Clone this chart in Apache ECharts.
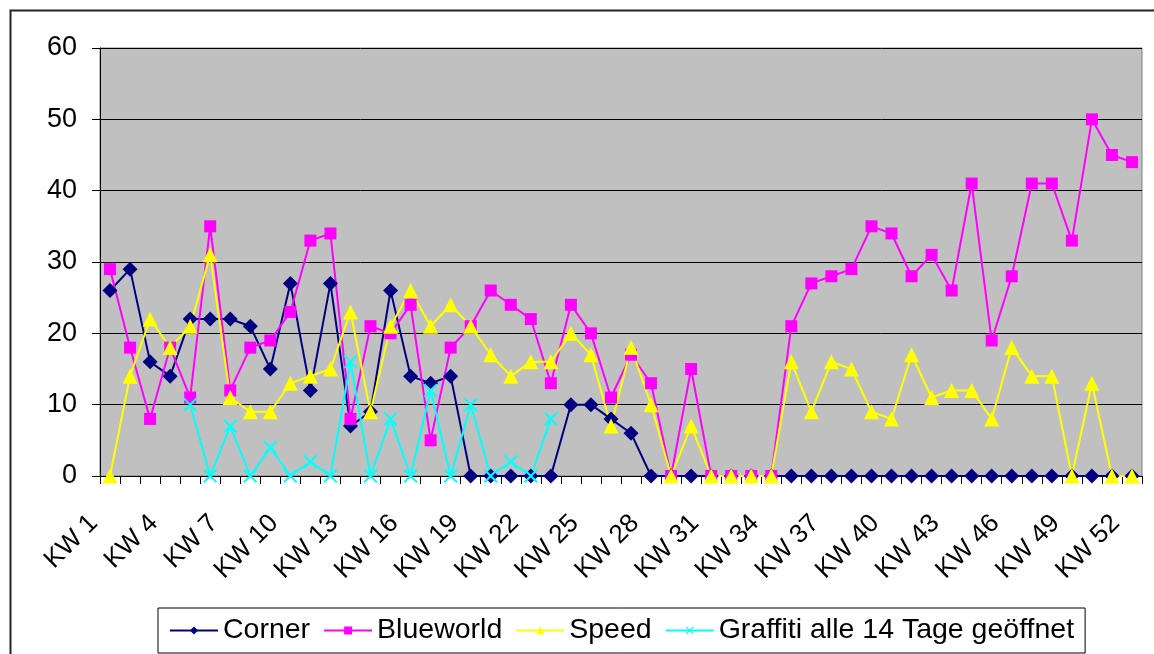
<!DOCTYPE html>
<html>
<head>
<meta charset="utf-8">
<script src="https://cdn.jsdelivr.net/npm/echarts@6/dist/echarts.min.js"></script>
<style>
html,body{margin:0;padding:0;background:#fff;}
#chart{width:1154px;height:654px;}
</style>
</head>
<body>
<div id="chart"></div>
<script>
const categories = [];
for (let i = 1; i <= 52; i++) categories.push('KW ' + i);

const corner = [26,29,16,14,22,22,22,21,15,27,12,27,7,9,26,14,13,14,0,0,0,0,0,10,10,8,6,0,0,0,0,0,0,0,0,0,0,0,0,0,0,0,0,0,0,0,0,0,0,0,0,0];
const blueworld = [29,18,8,18,11,35,12,18,19,23,33,34,8,21,20,24,5,18,21,26,24,22,13,24,20,11,17,13,0,15,0,0,0,0,21,27,28,29,35,34,28,31,26,41,19,28,41,41,33,50,45,44];
const speed = [0,14,22,18,21,31,11,9,9,13,14,15,23,9,21,26,21,24,21,17,14,16,16,20,17,7,18,10,0,7,0,0,0,0,16,9,16,15,9,8,17,11,12,12,8,18,14,14,0,13,0,0];
const graffiti = [null,null,null,null,10,0,7,0,4,0,2,0,16,0,8,0,12,0,10,0,2,0,8,null,null,null,null,null,null,null,null,null,null,null,null,null,null,null,null,null,null,null,null,null,null,null,null,null,null,null,null,null];
const seriesNames = ['Corner','Blueworld','Speed','Graffiti alle 14 Tage geöffnet'];

const FONT = "'Liberation Sans', Arial, sans-serif";
const xSymbol = 'path://M0,1 L1,0 L5,4 L9,0 L10,1 L6,5 L10,9 L9,10 L5,6 L1,10 L0,9 L4,5 Z';

const chart = echarts.init(document.getElementById('chart'));
chart.setOption({
  animation: false,
  backgroundColor: '#fff',
  textStyle: { fontFamily: FONT },
  graphic: [{
    type: 'rect', left: 8, top: 8, silent: true,
    shape: { x: 0, y: 0, width: 1170, height: 670 },
    style: { fill: 'none', stroke: '#222', lineWidth: 2 }
  }],
  grid: {
    left: 100, right: 12, top: 48, bottom: 178,
    show: true, backgroundColor: '#C0C0C0', borderColor: '#808080', borderWidth: 1
  },
  legend: {
    left: 158, top: 608,
    data: seriesNames,
    itemWidth: 48, itemHeight: 10, itemGap: 13,
    borderColor: '#000', borderWidth: 1,
    padding: [8, 11, 8, 11],
    textStyle: { fontSize: 28.5, color: '#000', fontFamily: FONT }
  },
  xAxis: {
    type: 'category', data: categories, boundaryGap: true,
    axisLine: { lineStyle: { color: '#000', width: 1 } },
    axisTick: { show: true, interval: 0, length: 8, lineStyle: { color: '#000' } },
    axisLabel: { interval: 2, rotate: 45, margin: 27, padding: [0, 23, 0, 0], fontSize: 26, color: '#000', fontFamily: FONT },
    splitLine: { show: false }
  },
  yAxis: {
    type: 'value', min: 0, max: 60, interval: 10,
    axisLine: { show: true, lineStyle: { color: '#000', width: 1 } },
    axisTick: { show: true, length: 8, lineStyle: { color: '#000' } },
    axisLabel: { fontSize: 27, color: '#000', margin: 23, fontFamily: FONT },
    splitLine: { show: true, lineStyle: { color: '#000', width: 1 } }
  },
  series: [
    { name: seriesNames[0], type: 'line', data: corner, symbol: 'diamond', symbolSize: 15, showAllSymbol: true,
      color: '#000080', lineStyle: { width: 2, color: '#000080' }, itemStyle: { color: '#000080' } },
    { name: seriesNames[1], type: 'line', data: blueworld, symbol: 'rect', symbolSize: 12, showAllSymbol: true,
      color: '#FF00FF', lineStyle: { width: 2, color: '#FF00FF' }, itemStyle: { color: '#FF00FF' } },
    { name: seriesNames[2], type: 'line', data: speed, symbol: 'triangle', symbolSize: 15, showAllSymbol: true,
      color: '#FFFF00', lineStyle: { width: 2, color: '#FFFF00' }, itemStyle: { color: '#FFFF00' } },
    { name: seriesNames[3], type: 'line', data: graffiti, symbol: xSymbol, symbolSize: 14, showAllSymbol: true,
      color: '#00FFFF', lineStyle: { width: 2, color: '#00FFFF' }, itemStyle: { color: '#00FFFF' } }
  ]
});
</script>
</body>
</html>
